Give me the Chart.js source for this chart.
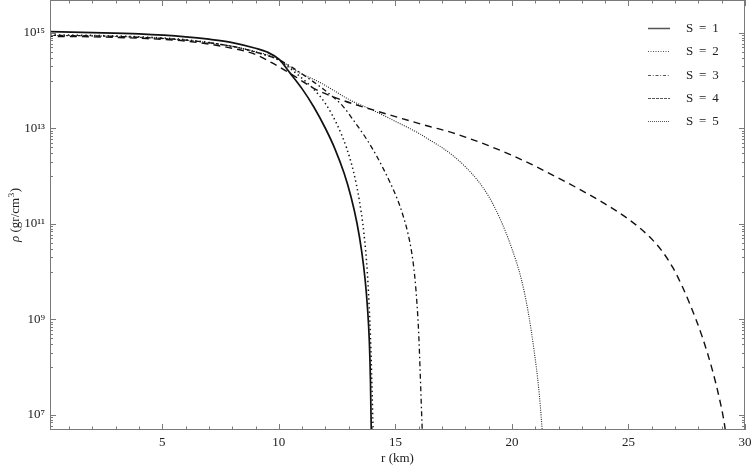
<!DOCTYPE html>
<html>
<head>
<meta charset="utf-8">
<script src="https://cdn.jsdelivr.net/npm/chart.js@4.4.1/dist/chart.umd.min.js"></script>
<style>
  html, body { margin: 0; padding: 0; background: #ffffff; }
  canvas { display: block; }
</style>
</head>
<body>
<canvas id="c" width="751" height="467"></canvas>
<script>
// ---- data (r in km, rho in gr/cm^3) ----
const seriesLabels = ['S = 1', 'S = 2', 'S = 3', 'S = 4', 'S = 5'];

const r1 = [0, 2, 4, 6, 7, 8, 9, 9.5, 10, 10.5, 11, 11.5, 12, 12.4, 12.8, 13.1, 13.35, 13.55, 13.7, 13.8, 13.88, 13.93, 13.96, 13.98];
const rho1 = [1.07e15, 1.02e15, 9.55e14, 8.32e14, 7.41e14, 6.31e14, 4.79e14, 3.98e14, 2.82e14, 1.41e14, 6.76e13, 2.82e13, 1.0e13, 3.80e12, 1.15e12, 3.63e11, 1.05e11, 2.75e10, 6.92e9, 1.82e9, 3.63e8, 5.01e7, 6.31e6, 2.0e6];

const r2 = [0, 2, 4, 6, 8, 9, 10, 10.5, 11, 11.5, 12, 12.5, 12.9, 13.2, 13.45, 13.65, 13.8, 13.9, 13.96, 14.0, 14.04, 14.06];
const rho2 = [9.12e14, 8.91e14, 8.32e14, 7.24e14, 5.25e14, 3.98e14, 2.69e14, 1.78e14, 1.12e14, 6.61e13, 3.31e13, 1.20e13, 3.98e12, 1.26e12, 3.16e11, 6.31e10, 8.91e9, 1.0e9, 1.58e8, 3.16e7, 5.01e6, 2.0e6];

const r3 = [0, 2, 4, 6, 8, 9, 10, 10.5, 11, 11.76, 12.3, 12.76, 13.19, 13.76, 14.2, 14.76, 15.1, 15.3, 15.54, 15.7, 15.83, 15.93, 16.0, 16.07, 16.12, 16.15, 16.17];
const rho3 = [8.91e14, 8.71e14, 8.13e14, 7.08e14, 5.25e14, 3.98e14, 2.75e14, 2.0e14, 1.38e14, 7.59e13, 4.68e13, 2.88e13, 1.51e13, 6.03e12, 2.63e12, 7.59e11, 3.16e11, 1.66e11, 6.31e10, 2.51e10, 7.94e9, 2.0e9, 5.01e8, 6.31e7, 1.26e7, 5.01e6, 2.51e6];

const r4 = [0, 2, 4, 6, 8, 9, 9.9, 10.5, 11.62, 12.8, 14.04, 15.2, 16.47, 17.33, 18, 19, 20, 21, 22, 23, 24, 25, 25.8, 26.4, 26.9, 27.3, 27.62, 28.17, 28.6, 28.9, 29.05, 29.15, 29.22];
const rho4 = [8.51e14, 8.32e14, 7.76e14, 6.76e14, 4.79e14, 3.55e14, 2.09e14, 1.41e14, 6.46e13, 3.80e13, 2.45e13, 1.66e13, 1.10e13, 8.51e12, 6.61e12, 4.37e12, 2.75e12, 1.62e12, 9.12e11, 5.01e11, 2.63e11, 1.26e11, 6.03e10, 2.88e10, 1.23e10, 5.01e9, 2.19e9, 4.27e8, 8.71e7, 2.24e7, 1.0e7, 5.01e6, 2.51e6];

const r5 = [0, 2, 4, 6, 8, 9, 10, 10.5, 10.9, 11.62, 12, 13.04, 14.04, 15, 16, 16.47, 17, 17.5, 18, 18.5, 19, 19.5, 20, 20.4, 20.7, 20.95, 21.15, 21.29, 21.33];
const rho5 = [8.91e14, 8.71e14, 8.13e14, 7.08e14, 5.25e14, 4.07e14, 2.82e14, 1.91e14, 1.45e14, 1.0e14, 7.94e13, 3.98e13, 2.40e13, 1.41e13, 7.94e12, 5.75e12, 3.98e12, 2.63e12, 1.58e12, 8.51e11, 3.80e11, 1.26e11, 3.02e10, 7.08e9, 1.41e9, 2.24e8, 3.55e7, 5.37e6, 2.51e6];

// tick values
const xTickValues = [1,2,3,4,5,6,7,8,9,10,11,12,13,14,15,16,17,18,19,20,21,22,23,24,25,26,27,28,29,30];
const xLabelValues = [5, 10, 15, 20, 25, 30];
const yMajorExponents = [7, 9, 11, 13, 15];
const yMinorExponents = [6, 8, 10, 12, 14];
const yMinorMultipliers = [1, 2, 3, 4, 5, 6, 7, 8, 9];

const xMin = 0.18, xMax = 30;
const yMin = 4.85e6, yMax = 4.91e15;

// ---- styles ----
const styles = [
  { color: '#111', width: 1.7, dash: [] },
  { color: '#111', width: 1.5, dash: [1.4, 3.0] },
  { color: '#111', width: 1.3, dash: [5, 3, 1.5, 3] },
  { color: '#111', width: 1.4, dash: [7, 5] },
  { color: '#222', width: 1.1, dash: [1, 1.3] }
];

const rs = [r1, r2, r3, r4, r5];
const rhos = [rho1, rho2, rho3, rho4, rho5];

const datasets = rs.map((r, k) => ({
  label: seriesLabels[k],
  data: r.map((x, i) => ({ x: x, y: rhos[k][i] })),
  borderColor: styles[k].color,
  borderWidth: styles[k].width,
  borderDash: styles[k].dash,
  pointRadius: 0,
  fill: false,
  cubicInterpolationMode: 'monotone'
}));

const SUP = {'0':'⁰','1':'¹','2':'²','3':'³','4':'⁴','5':'⁵','6':'⁶','7':'⁷','8':'⁸','9':'⁹'};
function supText(n) { return String(n).split('').map(c => SUP[c]).join(''); }

function isMajorY(v) {
  const e = Math.round(Math.log10(v));
  return Math.abs(v / Math.pow(10, e) - 1) < 1e-6 && yMajorExponents.includes(e);
}

const FONT = '"Liberation Serif", "Times New Roman", serif';
const AXIS_COLOR = '#7a7a7a';

const framePlugin = {
  id: 'frameTicks',
  afterDraw(chart) {
    const ctx = chart.ctx;
    const a = chart.chartArea;
    const xs = chart.scales.x, ys = chart.scales.y;
    ctx.save();
    ctx.strokeStyle = AXIS_COLOR;
    ctx.lineWidth = 1;
    ctx.strokeRect(Math.round(a.left) + 0.5, Math.round(a.top) + 0.5,
                   Math.round(a.right - a.left) - 1, Math.round(a.bottom - a.top) - 1);
    xs.ticks.forEach(t => {
      const px = Math.round(xs.getPixelForValue(t.value)) + 0.5;
      const len = xLabelValues.includes(t.value) ? 6 : 3.5;
      ctx.beginPath();
      ctx.moveTo(px, a.bottom); ctx.lineTo(px, a.bottom - len);
      ctx.moveTo(px, a.top); ctx.lineTo(px, a.top + len);
      ctx.stroke();
    });
    ys.ticks.forEach(t => {
      const py = Math.round(ys.getPixelForValue(t.value)) + 0.5;
      const len = isMajorY(t.value) ? 6 : 3;
      ctx.beginPath();
      ctx.moveTo(a.left, py); ctx.lineTo(a.left + len, py);
      ctx.moveTo(a.right, py); ctx.lineTo(a.right - len, py);
      ctx.stroke();
    });
    ctx.fillStyle = '#222';
    ctx.font = '13px ' + FONT;
    ctx.textAlign = 'center';
    ctx.textBaseline = 'middle';
    ctx.fillText('r (km)', (a.left + a.right) / 2, 459);
    ctx.save();
    ctx.translate(15, (a.top + a.bottom) / 2);
    ctx.rotate(-Math.PI / 2);
    const p1 = 'ρ', p2 = ' (gr/cm', p3 = '3', p4 = ')';
    ctx.font = 'italic 13px ' + FONT;
    const w1 = ctx.measureText(p1).width;
    ctx.font = '13px ' + FONT;
    const w2 = ctx.measureText(p2).width;
    const w4 = ctx.measureText(p4).width;
    ctx.font = '9px ' + FONT;
    const w3 = ctx.measureText(p3).width;
    let x0 = -(w1 + w2 + w3 + w4 + 1) / 2;
    ctx.textAlign = 'left';
    ctx.textBaseline = 'alphabetic';
    ctx.font = 'italic 13px ' + FONT;
    ctx.fillText(p1, x0, 4); x0 += w1;
    ctx.font = '13px ' + FONT;
    ctx.fillText(p2, x0, 4); x0 += w2;
    ctx.font = '9px ' + FONT;
    ctx.fillText(p3, x0 + 0.5, -1); x0 += w3 + 1;
    ctx.font = '13px ' + FONT;
    ctx.fillText(p4, x0, 4);
    ctx.restore();
    // legend
    const rowY0 = a.top + 28, rowStep = 23.3;
    chart.data.datasets.forEach((ds, k) => {
      const y = Math.round(rowY0 + k * rowStep) + 0.5;
      ctx.strokeStyle = '#555';
      ctx.lineWidth = k === 0 ? 1.5 : 1;
      ctx.setLineDash(k === 4 ? [1, 1] : (k === 1 ? [1, 1.5] : (k === 3 ? [3, 1] : ds.borderDash.map(v => v * 0.6))));
      ctx.beginPath();
      ctx.moveTo(648, y); ctx.lineTo(670, y);
      ctx.stroke();
      ctx.setLineDash([]);
      ctx.fillStyle = '#222';
      ctx.font = '13px ' + FONT;
      ctx.textAlign = 'left';
      ctx.textBaseline = 'middle';
      ctx.fillText(ds.label.replace(/ = /, ' \u2009= \u2009'), 686, y);
    });
    ctx.restore();
  }
};

new Chart(document.getElementById('c'), {
  type: 'line',
  data: { datasets: datasets },
  options: {
    responsive: false,
    devicePixelRatio: 1,
    animation: false,
    layout: { padding: { top: 0, right: 6, left: 0, bottom: 0 } },
    plugins: { legend: { display: false }, tooltip: { enabled: false } },
    scales: {
      x: {
        type: 'linear',
        min: xMin, max: xMax,
        afterFit(s) { s.height = 37; s.paddingLeft = 0; s.paddingRight = 0; },
        afterBuildTicks(s) { s.ticks = xTickValues.map(v => ({ value: v })); },
        grid: { display: false, drawTicks: false },
        border: { display: false },
        ticks: {
          autoSkip: false, maxRotation: 0, padding: 5,
          color: '#222', font: { family: FONT, size: 13 },
          callback: v => xLabelValues.includes(v) ? String(v) : ''
        }
      },
      y: {
        type: 'logarithmic',
        min: yMin, max: yMax,
        afterFit(s) { s.width = 50; s.paddingTop = 0; s.paddingBottom = 0; },
        afterBuildTicks(s) {
          const t = [];
          yMinorExponents.forEach(e => yMinorMultipliers.forEach(m => {
            const v = m * Math.pow(10, e);
            if (v >= yMin && v <= yMax) t.push({ value: v });
          }));
          yMajorExponents.forEach(e => t.push({ value: Math.pow(10, e) }));
          t.sort((p, q) => p.value - q.value);
          s.ticks = t;
        },
        grid: { display: false, drawTicks: false },
        border: { display: false },
        ticks: {
          autoSkip: false, padding: 5,
          color: '#222', font: { family: FONT, size: 13 },
          callback: v => isMajorY(v) ? '10' + supText(Math.round(Math.log10(v))) : ''
        }
      }
    }
  },
  plugins: [framePlugin]
});
</script>
</body>
</html>
